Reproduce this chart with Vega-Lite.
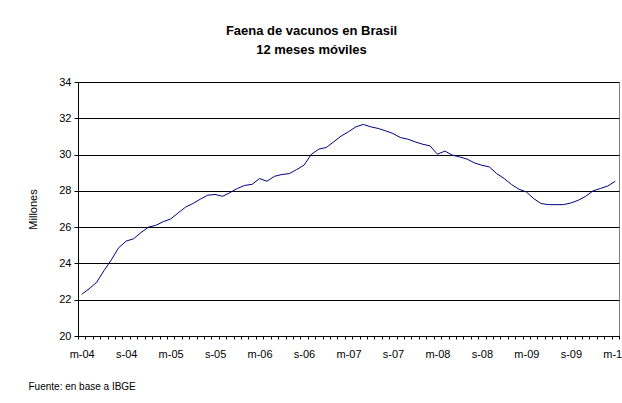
{
  "$schema": "https://vega.github.io/schema/vega-lite/v6.json",
  "width": 541,
  "height": 254,
  "autosize": {"type": "none"},
  "padding": {"left": 78, "top": 82, "right": 3, "bottom": 67},
  "background": "white",
  "config": {
    "font": "Liberation Sans",
    "view": {"stroke": "#808080", "strokeWidth": 1}
  },
  "title": {
    "text": ["Faena de vacunos en Brasil", "12 meses móviles"],
    "fontSize": 13,
    "fontWeight": "bold",
    "font": "Liberation Sans",
    "color": "black",
    "anchor": "middle",
    "frame": "group",
    "dx": -37,
    "offset": 19,
    "lineHeight": 19
  },
  "data": {
    "values": [
      {"fecha": "2004-03", "valor": 22.3},
      {"fecha": "2004-04", "valor": 22.6},
      {"fecha": "2004-05", "valor": 22.95},
      {"fecha": "2004-06", "valor": 23.6},
      {"fecha": "2004-07", "valor": 24.2},
      {"fecha": "2004-08", "valor": 24.87},
      {"fecha": "2004-09", "valor": 25.23},
      {"fecha": "2004-10", "valor": 25.36},
      {"fecha": "2004-11", "valor": 25.7},
      {"fecha": "2004-12", "valor": 26.0},
      {"fecha": "2005-01", "valor": 26.1},
      {"fecha": "2005-02", "valor": 26.3},
      {"fecha": "2005-03", "valor": 26.45},
      {"fecha": "2005-04", "valor": 26.78},
      {"fecha": "2005-05", "valor": 27.1},
      {"fecha": "2005-06", "valor": 27.3},
      {"fecha": "2005-07", "valor": 27.54},
      {"fecha": "2005-08", "valor": 27.76},
      {"fecha": "2005-09", "valor": 27.8},
      {"fecha": "2005-10", "valor": 27.7},
      {"fecha": "2005-11", "valor": 27.9},
      {"fecha": "2005-12", "valor": 28.13},
      {"fecha": "2006-01", "valor": 28.3},
      {"fecha": "2006-02", "valor": 28.36},
      {"fecha": "2006-03", "valor": 28.68},
      {"fecha": "2006-04", "valor": 28.53},
      {"fecha": "2006-05", "valor": 28.8},
      {"fecha": "2006-06", "valor": 28.9},
      {"fecha": "2006-07", "valor": 28.95},
      {"fecha": "2006-08", "valor": 29.17},
      {"fecha": "2006-09", "valor": 29.42},
      {"fecha": "2006-10", "valor": 30.02},
      {"fecha": "2006-11", "valor": 30.3},
      {"fecha": "2006-12", "valor": 30.39},
      {"fecha": "2007-01", "valor": 30.7},
      {"fecha": "2007-02", "valor": 31.02},
      {"fecha": "2007-03", "valor": 31.26},
      {"fecha": "2007-04", "valor": 31.53},
      {"fecha": "2007-05", "valor": 31.66},
      {"fecha": "2007-06", "valor": 31.53},
      {"fecha": "2007-07", "valor": 31.44},
      {"fecha": "2007-08", "valor": 31.31},
      {"fecha": "2007-09", "valor": 31.16},
      {"fecha": "2007-10", "valor": 30.94},
      {"fecha": "2007-11", "valor": 30.85},
      {"fecha": "2007-12", "valor": 30.7},
      {"fecha": "2008-01", "valor": 30.57},
      {"fecha": "2008-02", "valor": 30.48},
      {"fecha": "2008-03", "valor": 30.02},
      {"fecha": "2008-04", "valor": 30.19},
      {"fecha": "2008-05", "valor": 29.97},
      {"fecha": "2008-06", "valor": 29.87},
      {"fecha": "2008-07", "valor": 29.75},
      {"fecha": "2008-08", "valor": 29.54},
      {"fecha": "2008-09", "valor": 29.41},
      {"fecha": "2008-10", "valor": 29.32},
      {"fecha": "2008-11", "valor": 28.95},
      {"fecha": "2008-12", "valor": 28.68},
      {"fecha": "2009-01", "valor": 28.35},
      {"fecha": "2009-02", "valor": 28.09},
      {"fecha": "2009-03", "valor": 27.94},
      {"fecha": "2009-04", "valor": 27.57},
      {"fecha": "2009-05", "valor": 27.3},
      {"fecha": "2009-06", "valor": 27.24},
      {"fecha": "2009-07", "valor": 27.24},
      {"fecha": "2009-08", "valor": 27.24},
      {"fecha": "2009-09", "valor": 27.33},
      {"fecha": "2009-10", "valor": 27.48},
      {"fecha": "2009-11", "valor": 27.7},
      {"fecha": "2009-12", "valor": 28.0},
      {"fecha": "2010-01", "valor": 28.13},
      {"fecha": "2010-02", "valor": 28.27},
      {"fecha": "2010-03", "valor": 28.53}
    ]
  },
  "mark": {"type": "line", "color": "#000080", "strokeWidth": 1},
  "encoding": {
    "x": {
      "field": "fecha",
      "type": "ordinal",
      "bandPosition": 0.5,
      "scale": {"type": "band", "paddingInner": 0, "paddingOuter": 0},
      "axis": {
        "title": "Fuente: en base a IBGE",
        "titleX": -50,
        "titleY": 50,
        "titleAnchor": "start",
        "titleAlign": "left",
        "titleBaseline": "middle",
        "titleFontSize": 10,
        "titleFontWeight": "normal",
        "titleColor": "black",
        "labelAngle": 0,
        "tickBand": "extent",
        "labelExpr": "substring(datum.value,5,7)=='03' ? 'm-'+substring(datum.value,2,4) : (substring(datum.value,5,7)=='09' ? 's-'+substring(datum.value,2,4) : '')",
        "labelOverlap": false,
        "labelBound": false,
        "labelFontSize": 11,
        "labelColor": "black",
        "labelPadding": 9,
        "tickColor": "black",
        "tickSize": 3,
        "domainColor": "black",
        "grid": false
      }
    },
    "y": {
      "field": "valor",
      "type": "quantitative",
      "scale": {"domain": [20, 34], "nice": false, "zero": false},
      "axis": {
        "values": [20, 22, 24, 26, 28, 30, 32, 34],
        "title": "Millones",
        "titleFontSize": 11,
        "titleFontWeight": "normal",
        "titleColor": "black",
        "titlePadding": 20,
        "labelFontSize": 11,
        "labelColor": "black",
        "labelPadding": 3,
        "tickSize": 4,
        "tickColor": "black",
        "domainColor": "black",
        "grid": true,
        "gridColor": "black",
        "gridWidth": 1
      }
    }
  }
}
